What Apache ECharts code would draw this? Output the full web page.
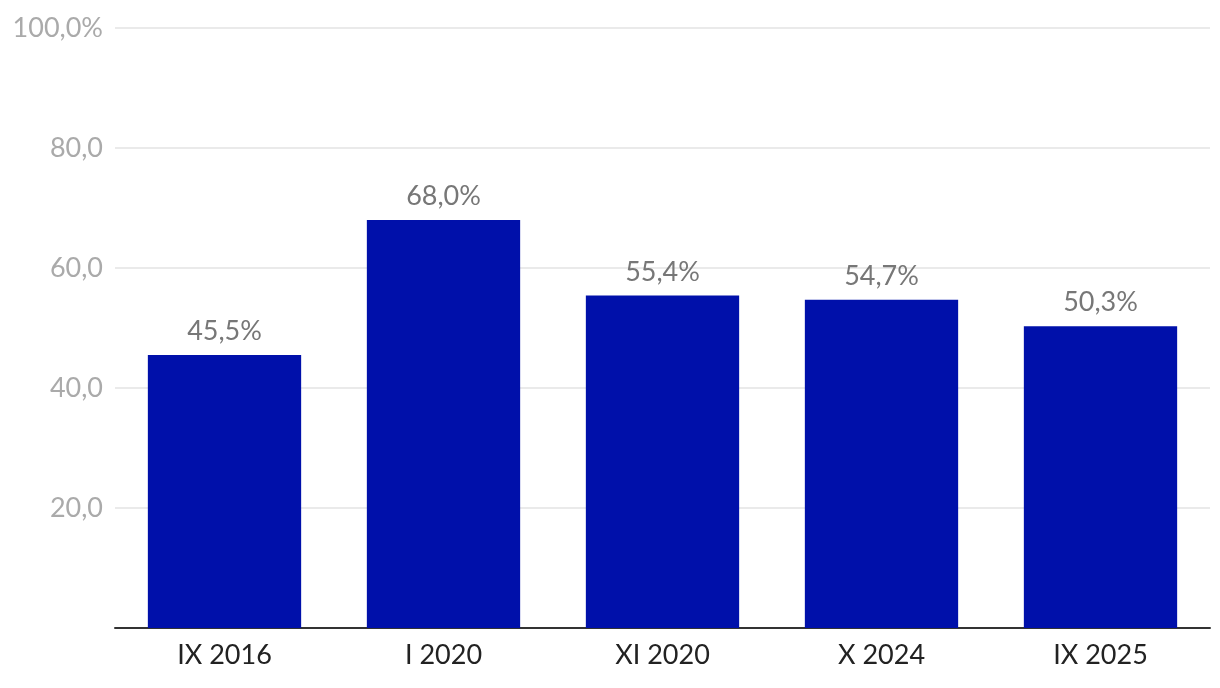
<!DOCTYPE html>
<html>
<head>
<meta charset="utf-8">
<script src="https://cdn.jsdelivr.net/npm/echarts@6/dist/echarts.min.js"></script>
<style>
html,body{margin:0;padding:0;background:#fff;}
#chart{width:1220px;height:688px;}
</style>
</head>
<body>
<div id="chart"></div>
<script>
const categories = ['IX 2016', 'I 2020', 'XI 2020', 'X 2024', 'IX 2025'];
const values = [45.5, 68.0, 55.4, 54.7, 50.3];
const yTicks = [0, 20, 40, 60, 80, 100];

const fmt = v => v.toFixed(1).replace('.', ',');
const chart = echarts.init(document.getElementById('chart'), null, {renderer: 'canvas'});
chart.setOption({
  animation: false,
  backgroundColor: '#ffffff',
  grid: {left: 115, right: 10, top: 28, bottom: 60, containLabel: false},
  xAxis: {
    type: 'category',
    data: categories,
    axisLine: {show: true, lineStyle: {color: '#333333', width: 2}},
    axisTick: {show: false},
    axisLabel: {color: '#222222', fontFamily: 'Lato', fontSize: 27, margin: 14}
  },
  yAxis: {
    type: 'value',
    min: yTicks[0],
    max: yTicks[yTicks.length - 1],
    interval: 20,
    axisLine: {show: false},
    axisTick: {show: false},
    splitLine: {lineStyle: {color: '#e3e3e3', width: 1.5}},
    axisLabel: {
      color: '#aaaaaa', fontFamily: 'Lato', fontSize: 27, margin: 12,
      formatter: v => v === 0 ? '' : (v === 100 ? fmt(v) + '%' : fmt(v))
    }
  },
  series: [{
    type: 'bar',
    data: values,
    barWidth: '70%',
    itemStyle: {color: '#0010aa'},
    label: {
      show: true, position: 'top', distance: 10,
      color: '#777777', fontFamily: 'Lato', fontSize: 27,
      formatter: p => fmt(p.value) + '%'
    }
  }]
});
</script>
</body>
</html>
